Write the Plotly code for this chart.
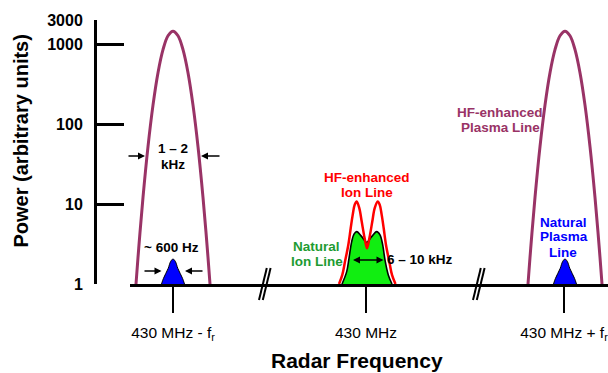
import plotly.graph_objects as go

# ---------------- data ----------------
# x values are positions along the (schematic) radar-frequency axis
x_tick_pos = [173, 366, 564]
x_tick_text = ["430 MHz - f<sub>r</sub>", "430 MHz", "430 MHz + f<sub>r</sub>"]

y_tick_vals = [1, 10, 100, 1000, 2040]
y_tick_text = ["1", "10", "100", "1000", "3000"]

plasma_centers = [173, 565]

# HF-enhanced plasma line profile (offset from line centre, power)
hf_plasma_offsets = [-37, -35, -33, -30, -25, -20, -15, -10, -5, 0, 5, 10, 15, 20, 25, 30, 33, 35, 37]
hf_plasma_power = [1, 2.15, 4.45, 12.2, 52.8, 175, 446, 867, 1294, 1479, 1294, 867, 446, 175, 52.8, 12.2, 4.45, 2.15, 1]

# Natural plasma line profile
nat_plasma_offsets = [-11.5, -9.5, -4.8, -2.5, 0, 2.5, 4.8, 9.5, 11.5]
nat_plasma_power = [1, 1.18, 1.57, 1.9, 2.06, 1.9, 1.57, 1.18, 1]

# Natural ion line
nat_ion_freq = [342, 346.7, 349, 351.7, 354, 356.7, 361.7, 366.7, 371.7, 376.7, 380, 382.7, 385, 388.3, 392]
nat_ion_power = [1, 1.43, 2.10, 3.40, 4.21, 4.54, 3.93, 3.34, 3.93, 4.54, 4.13, 3.09, 2.00, 1.30, 1]

# HF-enhanced ion line
hf_ion_freq = [339, 342.3, 345, 348.3, 350.7, 352.7, 354.7, 356.7, 359.3, 361.7, 364, 366, 367, 368,
               370, 372.3, 374.7, 377.7, 379.7, 381.7, 383.7, 386, 389.3, 392, 395.5]
hf_ion_power = [1, 1.30, 1.91, 3.09, 5.0, 7.36, 9.83, 10.8, 8.93, 6.06, 4.13, 3.09, 2.81, 3.09,
                4.13, 6.06, 8.93, 10.8, 9.83, 7.36, 5.0, 3.09, 1.91, 1.30, 1]

axis_breaks = [264.8, 478.8]

# ---------------- styling ----------------
W, H = 608, 373
M_T, M_B = 20, 89
PLOT_H = H - M_T - M_B
Y0 = H - M_B  # pixel row of the x axis


def py(ypx):
    """pixel row -> paper y"""
    return (Y0 - ypx) / PLOT_H


FONT = "Arial, Liberation Sans, sans-serif"
PURPLE = "#993366"
RED = "#FF0000"
BLUE = "#0000FF"
LIME = "#11EE11"
GREEN_TXT = "#1E9B32"

fig = go.Figure()

# HF-enhanced plasma lines
for c in plasma_centers:
    fig.add_trace(go.Scatter(
        x=[c + o for o in hf_plasma_offsets], y=hf_plasma_power,
        mode="lines", line=dict(color=PURPLE, width=3, shape="spline"),
        hoverinfo="skip", showlegend=False))

# Natural plasma lines
for c in plasma_centers:
    fig.add_trace(go.Scatter(
        x=[c + o for o in nat_plasma_offsets], y=nat_plasma_power,
        mode="lines", fill="toself", fillcolor=BLUE,
        line=dict(color="black", width=1, shape="spline"),
        hoverinfo="skip", showlegend=False))

# Natural ion line
fig.add_trace(go.Scatter(
    x=nat_ion_freq, y=nat_ion_power, mode="lines", fill="toself", fillcolor=LIME,
    line=dict(color="black", width=1.6, shape="spline"),
    hoverinfo="skip", showlegend=False))

# HF-enhanced ion line
fig.add_trace(go.Scatter(
    x=hf_ion_freq, y=hf_ion_power, mode="lines",
    line=dict(color=RED, width=2.5, shape="spline"),
    hoverinfo="skip", showlegend=False))

annotations = []


def label(text, x, ypx, color="black", size=13.5, xref="x"):
    annotations.append(dict(text=text, x=x, y=py(ypx), xref=xref, yref="paper",
                            showarrow=False, xanchor="center", yanchor="middle",
                            font=dict(family=FONT, size=size, color=color, weight="bold")))


def arrow(xhead, xtail, ypx, both=False):
    annotations.append(dict(text="", x=xhead, y=py(ypx), xref="x", yref="paper",
                            ax=xtail - xhead, ay=0, showarrow=True,
                            arrowhead=2, arrowsize=1, arrowwidth=1.4, arrowcolor="black",
                            arrowside="end+start" if both else "end",
                            startarrowhead=2, startarrowsize=1))


label("1 – 2", 173, 148.5)
label("kHz", 173, 164)
arrow(145, 127, 156)
arrow(201, 221, 156)

label("~ 600 Hz", 171.5, 247.5)
arrow(161.5, 143, 271)
arrow(185, 204, 271)

label("HF-enhanced", 367, 177, RED)
label("Ion Line", 367, 192.8, RED)
label("Natural", 316.7, 246.7, GREEN_TXT)
label("Ion Line", 316.7, 261.3, GREEN_TXT)
label("6 – 10 kHz", 420, 259.2)
arrow(383.5, 351.5, 260, both=True)

label("HF-enhanced", 500, 112.3, PURPLE)
label("Plasma Line", 500, 127.7, PURPLE)
label("Natural", 563.3, 222, BLUE)
label("Plasma", 563.5, 236.5, BLUE)
label("Line", 562.7, 252, BLUE)

# axis titles
annotations.append(dict(text="Radar Frequency", x=356.7 / W, y=py(360), xref="paper", yref="paper",
                        showarrow=False, xanchor="center", yanchor="middle",
                        font=dict(family=FONT, size=21, color="black", weight="bold")))
annotations.append(dict(text="Power (arbitrary units)", x=20 / W, y=py(141.5), xref="paper", yref="paper",
                        showarrow=False, xanchor="center", yanchor="middle", textangle=-90,
                        font=dict(family=FONT, size=20, color="black", weight="bold")))

shapes = []
for b in axis_breaks:
    for d in (-1.9, 1.9):
        shapes.append(dict(type="line", xref="x", yref="paper",
                           x0=b + d - 3.9, y0=py(300), x1=b + d + 3.9, y1=py(268),
                           line=dict(color="black", width=2)))

fig.update_layout(
    width=W, height=H,
    margin=dict(l=0, r=0, t=M_T, b=M_B, pad=0),
    paper_bgcolor="white", plot_bgcolor="white",
    showlegend=False,
    annotations=annotations,
    shapes=shapes,
    xaxis=dict(
        domain=[130 / W, 1], range=[130, W], anchor="y",
        showgrid=False, zeroline=False,
        showline=True, linecolor="black", linewidth=3,
        ticks="outside", ticklen=26, tickwidth=2, tickcolor="black",
        tickvals=x_tick_pos, ticktext=x_tick_text,
        tickfont=dict(family=FONT, size=15.5, color="black"),
        ticklabeloverflow="allow", ticklabelstandoff=6,
        automargin=False, fixedrange=True,
    ),
    yaxis=dict(
        type="log", range=[0, 3.3096], domain=[0, 1],
        anchor="free", position=95 / W, side="left",
        showgrid=False, zeroline=False,
        showline=True, linecolor="black", linewidth=3,
        ticks="inside", ticklen=27, tickwidth=3, tickcolor="black",
        tickvals=y_tick_vals, ticktext=y_tick_text,
        tickfont=dict(family=FONT, size=16, color="black", weight="bold"),
        ticklabelstandoff=8,
        automargin=False, fixedrange=True,
    ),
)

fig.write_html(
    "out.html",
    config={"displayModeBar": False, "staticPlot": True},
    post_script="document.body.style.margin='0';document.body.style.overflow='hidden';",
)
